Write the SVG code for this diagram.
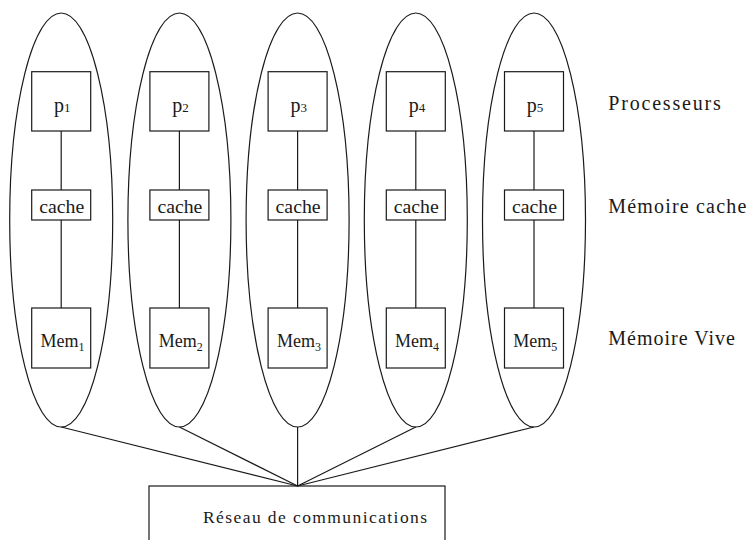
<svg xmlns="http://www.w3.org/2000/svg" width="755" height="540" viewBox="0 0 755 540">
<style>
.shape{fill:none;stroke:#1a1a1a;stroke-width:1.2}
.edge{stroke:#1a1a1a;stroke-width:1.2;fill:none}
text{fill:#1a1a1a;font-family:"Liberation Serif","DejaVu Serif",serif}
.lbl{font-size:18px;text-anchor:middle}
.plbl{font-size:20px;text-anchor:middle}
.sub{font-size:12px}
.psub{font-size:13px}
.side{font-size:20px}
.net{font-size:17.5px}
</style>
<rect width="755" height="540" fill="#fff"/>
<g id="connectors">
<line class="edge" x1="61.2" y1="131" x2="61.2" y2="190"/>
<line class="edge" x1="61.2" y1="220" x2="61.2" y2="308"/>
<line class="edge" x1="179.4" y1="131" x2="179.4" y2="190"/>
<line class="edge" x1="179.4" y1="220" x2="179.4" y2="308"/>
<line class="edge" x1="297.6" y1="131" x2="297.6" y2="190"/>
<line class="edge" x1="297.6" y1="220" x2="297.6" y2="308"/>
<line class="edge" x1="415.8" y1="131" x2="415.8" y2="190"/>
<line class="edge" x1="415.8" y1="220" x2="415.8" y2="308"/>
<line class="edge" x1="534" y1="131" x2="534" y2="190"/>
<line class="edge" x1="534" y1="220" x2="534" y2="308"/>
<line class="edge" x1="61.2" y1="427" x2="297.6" y2="486"/>
<line class="edge" x1="179.4" y1="427" x2="297.6" y2="486"/>
<line class="edge" x1="297.6" y1="427" x2="297.6" y2="486"/>
<line class="edge" x1="415.8" y1="427" x2="297.6" y2="486"/>
<line class="edge" x1="534" y1="427" x2="297.6" y2="486"/>
</g>
<g id="node1"><ellipse class="shape" cx="61.2" cy="220" rx="51.5" ry="207"/></g>
<g id="node2"><ellipse class="shape" cx="179.4" cy="220" rx="51.5" ry="207"/></g>
<g id="node3"><ellipse class="shape" cx="297.6" cy="220" rx="51.5" ry="207"/></g>
<g id="node4"><ellipse class="shape" cx="415.8" cy="220" rx="51.5" ry="207"/></g>
<g id="node5"><ellipse class="shape" cx="534" cy="220" rx="51.5" ry="207"/></g>

<g id="p1"><rect class="shape" x="31.7" y="71.7" width="59" height="59.3"/><text class="plbl" x="62.3" y="112">p<tspan class="psub">1</tspan></text></g>
<g id="p2"><rect class="shape" x="149.9" y="71.7" width="59" height="59.3"/><text class="plbl" x="180.5" y="112">p<tspan class="psub">2</tspan></text></g>
<g id="p3"><rect class="shape" x="268.1" y="71.7" width="59" height="59.3"/><text class="plbl" x="298.7" y="112">p<tspan class="psub">3</tspan></text></g>
<g id="p4"><rect class="shape" x="386.3" y="71.7" width="59" height="59.3"/><text class="plbl" x="416.9" y="112">p<tspan class="psub">4</tspan></text></g>
<g id="p5"><rect class="shape" x="504.5" y="71.7" width="59" height="59.3"/><text class="plbl" x="535.1" y="112">p<tspan class="psub">5</tspan></text></g>

<g id="cache1"><rect class="shape" x="31.7" y="190" width="59" height="30"/><text class="lbl" x="61.7" y="213" textLength="45" lengthAdjust="spacingAndGlyphs">cache</text></g>
<g id="cache2"><rect class="shape" x="149.9" y="190" width="59" height="30"/><text class="lbl" x="179.9" y="213" textLength="45" lengthAdjust="spacingAndGlyphs">cache</text></g>
<g id="cache3"><rect class="shape" x="268.1" y="190" width="59" height="30"/><text class="lbl" x="298.1" y="213" textLength="45" lengthAdjust="spacingAndGlyphs">cache</text></g>
<g id="cache4"><rect class="shape" x="386.3" y="190" width="59" height="30"/><text class="lbl" x="416.3" y="213" textLength="45" lengthAdjust="spacingAndGlyphs">cache</text></g>
<g id="cache5"><rect class="shape" x="504.5" y="190" width="59" height="30"/><text class="lbl" x="534.5" y="213" textLength="45" lengthAdjust="spacingAndGlyphs">cache</text></g>

<g id="mem1"><rect class="shape" x="31.7" y="308" width="59" height="60"/><text class="lbl" x="62.5" y="347">Mem<tspan class="sub" dy="4">1</tspan></text></g>
<g id="mem2"><rect class="shape" x="149.9" y="308" width="59" height="60"/><text class="lbl" x="180.7" y="347">Mem<tspan class="sub" dy="4">2</tspan></text></g>
<g id="mem3"><rect class="shape" x="268.1" y="308" width="59" height="60"/><text class="lbl" x="298.9" y="347">Mem<tspan class="sub" dy="4">3</tspan></text></g>
<g id="mem4"><rect class="shape" x="386.3" y="308" width="59" height="60"/><text class="lbl" x="417.1" y="347">Mem<tspan class="sub" dy="4">4</tspan></text></g>
<g id="mem5"><rect class="shape" x="504.5" y="308" width="59" height="60"/><text class="lbl" x="535.3" y="347">Mem<tspan class="sub" dy="4">5</tspan></text></g>

<g id="reseau"><rect class="shape" x="149" y="486" width="296" height="70"/><text class="net" x="203" y="523" textLength="224" lengthAdjust="spacing">Réseau de communications</text></g>

<g id="labels">
<text class="side" x="608.3" y="110" textLength="112.5" lengthAdjust="spacing">Processeurs</text>
<text class="side" x="608.3" y="213" textLength="138" lengthAdjust="spacing">Mémoire cache</text>
<text class="side" x="608.3" y="345" textLength="126.5" lengthAdjust="spacing">Mémoire Vive</text>
</g>
</svg>
